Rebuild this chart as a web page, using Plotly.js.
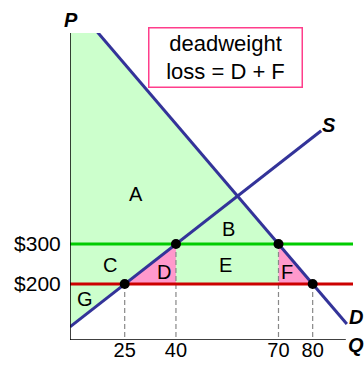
<!DOCTYPE html>
<html>
<head>
<meta charset="utf-8">
<script src="https://cdn.plot.ly/plotly-3.0.1.min.js"></script>
<style>html,body{margin:0;padding:0;background:#fff;}#chart{width:364px;height:365px;}</style>
</head>
<body>
<div id="chart"></div>
<script>
// ---- data ----
var quantities = [25, 40, 70, 80];          // marked quantities on Q axis
var qTickLabels = ['25', '40', '70', '80'];
var prices = [200, 300];                    // marked prices
var pTickLabels = ['$200', '$300'];
// supply curve S: endpoints (Q, P)
var supplyQ = [9, 82.5];
var supplyP = [93, 583];
// demand curve D: endpoints (Q, P)
var demandQ = [9, 90];
var demandP = [910, 100];
// marked points (Q, P)
var pointQ = [25, 40, 70, 80];
var pointP = [200, 300, 300, 200];
// region labels
var regionNames = ['A', 'B', 'C', 'D', 'E', 'F', 'G'];
var regionQ = [28.2, 55.4, 20.7, 36.6, 54.5, 72.6, 13.4];
var regionP = [424, 338, 248, 231, 247, 231, 162];

// ---- layout config ----
var xRange = [9, 91.8];
var yRange = [60, 827.5];
var FONT = 'Liberation Sans, Arial, sans-serif';
var navy = '#333399';

var traces = [];
// green surplus region: y-axis -> D down to (70,300) -> (70,200) -> (25,200) -> S down to y-axis
traces.push({
  x: [demandQ[0], pointQ[2], pointQ[2], pointQ[0], supplyQ[0], demandQ[0]],
  y: [demandP[0], pointP[2], prices[0], prices[0], supplyP[0], demandP[0]],
  mode: 'lines', fill: 'toself', fillcolor: '#ccffcc',
  line: {width: 0}, hoverinfo: 'skip', showlegend: false
});
// pink triangle D
traces.push({
  x: [pointQ[0], pointQ[1], pointQ[1], pointQ[0]],
  y: [pointP[0], pointP[1], prices[0], pointP[0]],
  mode: 'lines', fill: 'toself', fillcolor: '#ff99cc',
  line: {width: 0}, hoverinfo: 'skip', showlegend: false
});
// pink triangle F
traces.push({
  x: [pointQ[2], pointQ[2], pointQ[3], pointQ[2]],
  y: [pointP[2], prices[0], pointP[3], pointP[2]],
  mode: 'lines', fill: 'toself', fillcolor: '#ff99cc',
  line: {width: 0}, hoverinfo: 'skip', showlegend: false
});
// dashed drop lines
for (var i = 0; i < pointQ.length; i++) {
  traces.push({
    x: [pointQ[i], pointQ[i]], y: [pointP[i], yRange[0]],
    mode: 'lines', line: {color: '#888888', width: 1.2, dash: '5px,3px'},
    hoverinfo: 'skip', showlegend: false
  });
}
// price lines
traces.push({
  x: xRange, y: [prices[1], prices[1]], mode: 'lines',
  line: {color: '#00cc00', width: 3}, hoverinfo: 'skip', showlegend: false
});
traces.push({
  x: xRange, y: [prices[0], prices[0]], mode: 'lines',
  line: {color: '#cc0000', width: 3}, hoverinfo: 'skip', showlegend: false
});
// supply & demand
traces.push({x: supplyQ, y: supplyP, mode: 'lines', line: {color: navy, width: 3}, showlegend: false});
traces.push({x: demandQ, y: demandP, mode: 'lines', line: {color: navy, width: 3}, showlegend: false});
// points
traces.push({
  x: pointQ, y: pointP, mode: 'markers',
  marker: {color: '#000', size: 10}, showlegend: false, cliponaxis: false
});

var annotations = [];
for (var j = 0; j < regionNames.length; j++) {
  annotations.push({
    x: regionQ[j], y: regionP[j], xref: 'x', yref: 'y', text: regionNames[j],
    xanchor: 'center', yanchor: 'middle',
    showarrow: false, font: {family: FONT, size: 20, color: '#000'}
  });
}
function axisLabel(t, x, y) {
  return {x: x, y: y, xref: 'paper', yref: 'paper', text: '<b><i>' + t + '</i></b>',
    xanchor: 'center', yanchor: 'middle',
    showarrow: false, font: {family: FONT, size: 20, color: '#000'}};
}
annotations.push(axisLabel('P', 0.003, 1.042));
annotations.push(axisLabel('S', 0.915, 0.700));
annotations.push(axisLabel('D', 1.01, 0.075));
annotations.push(axisLabel('Q', 1.011, -0.015));
annotations.push({
  x: 0.5495, y: 0.92, xref: 'paper', yref: 'paper',
  xanchor: 'center', yanchor: 'middle',
  text: 'deadweight<br>loss = D + F', showarrow: false,
  font: {family: FONT, size: 22, color: '#000'},
  bordercolor: '#ff3d8b', borderwidth: 1.5, borderpad: 0,
  width: 152, height: 58, bgcolor: '#fff'
});

var layout = {
  width: 364, height: 365,
  margin: {l: 70, r: 11, t: 33, b: 25, pad: 0},
  paper_bgcolor: '#fff', plot_bgcolor: 'rgba(0,0,0,0)',
  showlegend: false,
  font: {family: FONT, size: 20, color: '#000'},
  xaxis: {
    range: xRange, showgrid: false, zeroline: false, showline: false,
    tickmode: 'array', tickvals: quantities, ticktext: qTickLabels,
    ticks: '', ticklabelstandoff: -4,
    tickfont: {family: FONT, size: 20, color: '#000'}, fixedrange: true
  },
  yaxis: {
    range: yRange, showgrid: false, zeroline: false, showline: false,
    tickmode: 'array', tickvals: prices, ticktext: pTickLabels,
    ticks: 'outside', ticklen: 4, tickcolor: 'rgba(0,0,0,0)',
    tickfont: {family: FONT, size: 21, color: '#000'}, fixedrange: true
  },
  shapes: [
    {type: 'line', xref: 'x', yref: 'y', x0: xRange[0], x1: xRange[0], y0: yRange[0], y1: yRange[1],
     line: {color: '#000', width: 1.5}, layer: 'above'},
    {type: 'line', xref: 'x', yref: 'y', x0: xRange[0], x1: 89.7, y0: yRange[0], y1: yRange[0],
     line: {color: '#000', width: 1.5}, layer: 'above'}
  ],
  annotations: annotations
};

Plotly.newPlot('chart', traces, layout, {staticPlot: true, displayModeBar: false});
</script>
</body>
</html>
